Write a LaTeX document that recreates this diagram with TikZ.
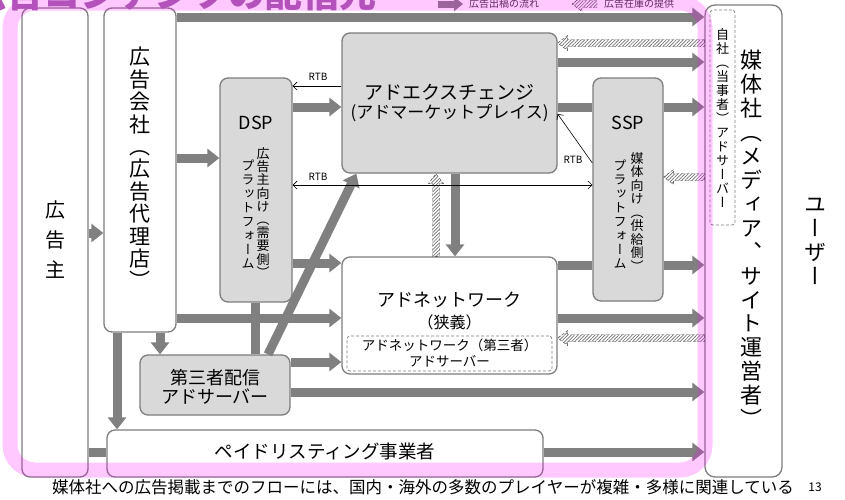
\documentclass[tikz,border=0pt]{standalone}
\usepackage{fontspec}
\setmainfont{Noto Sans CJK JP}
\newfontfamily\vjp[RawFeature=+vert]{Noto Sans CJK JP}
\usetikzlibrary{arrows.meta,patterns.meta,calc}
\definecolor{arr}{RGB}{128,128,128}
\definecolor{boxline}{RGB}{125,125,125}
\definecolor{boxfill}{RGB}{217,217,217}
\definecolor{pinkov}{RGB}{255,0,255}
\definecolor{titlec}{RGB}{178,82,186}
\newcommand\hatchleft[2]{\path[hatch] let \p1=(#1), \p2=(#2) in
  (\x1,\y1+3.5pt) -- (\x2+10pt,\y1+3.5pt) -- (\x2+10pt,\y1+7.5pt) -- (\x2,\y1)
  -- (\x2+10pt,\y1-7.5pt) -- (\x2+10pt,\y1-3.5pt) -- (\x1,\y1-3.5pt) -- cycle;}
\newcommand\hatchup[2]{\path[hatch] let \p1=(#1), \p2=(#2) in
  (\x1-3.5pt,\y1) -- (\x1-3.5pt,\y2-10pt) -- (\x1-7.5pt,\y2-10pt) -- (\x1,\y2)
  -- (\x1+7.5pt,\y2-10pt) -- (\x1+3.5pt,\y2-10pt) -- (\x1+3.5pt,\y1) -- cycle;}
\begin{document}
\begin{tikzpicture}[x=1pt,y=-1pt,
  box/.style={draw=boxline, line width=1.3pt, rounded corners=8pt, fill=white, inner sep=0pt},
  gbox/.style={box, fill=boxfill},
  flow/.style={draw=arr, line width=9pt, -{Triangle[length=12pt,width=18pt]}},
  bar/.style={draw=arr, line width=9pt},
  hatch/.style={draw=black!75, densely dashed, line width=0.4pt,
    pattern={Lines[angle=45,distance=2.4pt,line width=0.7pt]}, pattern color=black!55},
  rtb/.style={line width=0.6pt, -{Straight Barb[length=4pt,width=8pt]}},
  rtbboth/.style={line width=0.6pt, {Straight Barb[length=4pt,width=8pt]}-{Straight Barb[length=4pt,width=8pt]}},
  lbl/.style={inner sep=0pt, align=center},
  vt/.style={inner sep=0pt, align=center}
]
\useasboundingbox (0,0) rectangle (845,499);
\clip (0,0) rectangle (845,499);

% boxes
\node[box, minimum width=66, minimum height=469] (adv) at (55,242.5) {};
\node[box, minimum width=72, minimum height=324] (agency) at (140,170) {};
\node[gbox, minimum width=72, minimum height=224] (dsp) at (256,190) {};
\node[gbox, minimum width=215, minimum height=140] (adx) at (449.5,103) {};
\node[gbox, minimum width=70, minimum height=223] (ssp) at (628,189.5) {};
\node[box, minimum width=215, minimum height=117] (adnet) at (449.5,315.5) {};
\node[draw=boxline, densely dashed, line width=0.7pt, rounded corners=3pt, inner sep=0pt,
      minimum width=205, minimum height=35] (adnetsrv) at (449.5,353.5) {};
\node[gbox, minimum width=150, minimum height=60] (third) at (215,385) {};
\node[box, minimum width=436, minimum height=47] (paid) at (325,453.5) {};
\node[box, rounded corners=10pt, minimum width=77, minimum height=472] (media) at (743.5,241) {};
\node[draw=boxline, densely dashed, line width=0.7pt, rounded corners=3pt, inner sep=0pt,
      minimum width=25, minimum height=215] (self) at (722.5,117.5) {};

% texts
\node[vt, font=\vjp\fontsize{20}{30}\selectfont] (tadv) at (55,240) {広\\告\\主};
\node[vt, font=\vjp\fontsize{21}{22.4}\selectfont] (tagency) at (140,168) {広\\告\\会\\社\\（\\広\\告\\代\\理\\店\\）};
\node[lbl, font=\fontsize{18}{20}\selectfont] (tdsp) at (256,123) {DSP};
\node[vt, font=\vjp\fontsize{13}{13.2}\selectfont] (tdsp1) at (263,212.5) {広\\告\\主\\向\\け\\（\\需\\要\\側\\）};
\node[vt, font=\vjp\fontsize{13}{14}\selectfont] (tdsp2) at (248,214) {プ\\ラ\\ッ\\ト\\フ\\ォ\\ー\\ム};
\node[lbl, font=\fontsize{18}{20}\selectfont] (tssp) at (628,123) {SSP};
\node[vt, font=\vjp\fontsize{13}{13.5}\selectfont] (tssp1) at (637,212) {媒\\体\\向\\け\\（\\供\\給\\側\\）};
\node[vt, font=\vjp\fontsize{13}{14}\selectfont] (tssp2) at (620,214.5) {プ\\ラ\\ッ\\ト\\フ\\ォ\\ー\\ム};
\node[lbl, font=\fontsize{19}{21}\selectfont] (tadx1) at (449.5,92) {アドエクスチェンジ};
\node[lbl, font=\fontsize{17}{19}\selectfont] (tadx2) at (449.5,113) {(アドマーケットプレイス)};
\node[lbl, font=\fontsize{18}{20}\selectfont] (tadnet1) at (449.5,300) {アドネットワーク};
\node[lbl, font=\fontsize{16}{18}\selectfont] (tadnet2) at (449.5,322) {（狭義）};
\node[lbl, font=\fontsize{13.5}{15}\selectfont] (tsrv1) at (449.5,345) {アドネットワーク（第三者）};
\node[lbl, font=\fontsize{13.5}{15}\selectfont] (tsrv2) at (449.5,361) {アドサーバー};
\node[lbl, font=\fontsize{18}{19.5}\selectfont] (tthird) at (215,387) {第三者配信\\アドサーバー};
\node[lbl, font=\fontsize{18.5}{20}\selectfont] (tpaid) at (325,451) {ペイドリスティング事業者};
\node[vt, font=\vjp\fontsize{22}{23.9}\selectfont] (tmedia) at (751,239) {媒\\体\\社\\（\\メ\\デ\\ィ\\ア\\、\\サ\\イ\\ト\\運\\営\\者\\）};
\node[vt, font=\vjp\fontsize{13}{14}\selectfont] (tself) at (722.5,118) {自\\社\\（\\当\\事\\者\\）\\ア\\ド\\サ\\ー\\バ\\ー};
\node[vt, font=\vjp\fontsize{22}{24}\selectfont] (tuser) at (815,241.5) {ユ\\ー\\ザ\\ー};
\node[lbl, font=\fontsize{10}{12}\selectfont] (rtb1) at (318,77) {RTB};
\node[lbl, font=\fontsize{10}{12}\selectfont] (rtb2) at (318,177) {RTB};
\node[lbl, font=\fontsize{10}{12}\selectfont] (rtb3) at (573,160) {RTB};
\node[lbl, font=\fontsize{16.5}{18}\selectfont] (footer) at (423,487) {媒体社への広告掲載までのフローには、国内・海外の多数のプレイヤーが複雑・多様に関連している};
\node[lbl, font=\fontsize{12}{14}\selectfont] (pageno) at (815,487) {13};

% flow arrows
\draw[flow] (agency.east |- 0,17) -- (media.west |- 0,17);
\draw[flow] (adx.east |- 0,62) -- (media.west |- 0,62);
\draw[bar] (adx.east |- 0,107) -- (ssp.west |- 0,107);
\draw[flow] (ssp.east |- 0,107) -- (media.west |- 0,107);
\draw[flow] (dsp.east |- 0,107) -- (adx.west |- 0,107);
\draw[flow] (agency.east |- 0,158) -- (dsp.west |- 0,158);
\draw[flow] (adv.east |- 0,233) -- (agency.west |- 0,233);
\draw[flow] (dsp.east |- 0,263) -- (adnet.west |- 0,263);
\draw[bar] (adnet.east |- 0,265) -- (ssp.west |- 0,265);
\draw[flow] (ssp.east |- 0,265) -- (media.west |- 0,265);
\draw[flow] (adx.south -| 455,0) -- (adnet.north -| 455,0);
\draw[flow] (adnet.east |- 0,318) -- (media.west |- 0,318);
\draw[bar] (dsp.south -| 255,0) -- (third.north -| 255,0);
\draw[flow] (agency.east |- 0,318) -- (adnet.west |- 0,318);
\draw[flow] (third.east |- 0,362) -- (adnet.west |- 0,362);
\draw[flow] (third.east |- 0,392) -- (media.west |- 0,392);
\draw[flow] (agency.south -| 160,0) -- (third.north -| 160,0);
\draw[flow] (agency.south -| 117,0) -- (paid.north -| 117,0);
\draw[bar] (adv.east |- 0,452) -- (paid.west |- 0,452);
\draw[flow] (paid.east |- 0,452) -- (media.west |- 0,452);
\draw[flow] ($(third.north)+(53,0)$) -- ($(adx.south west)+(15,0)$);

% hatched (inventory) arrows
\hatchleft{media.west |- 0,43}{adx.east |- 0,43}
\hatchleft{media.west |- 0,177}{ssp.east |- 0,177}
\hatchleft{media.west |- 0,338}{adnet.east |- 0,338}
\hatchup{adnet.north -| 436,0}{adx.south -| 436,0}

% RTB
\draw[rtb] (adx.west |- 0,86) -- (dsp.east |- 0,86);
\draw[rtbboth] (dsp.east |- 0,185) -- (ssp.west |- 0,185);
\draw[rtb] (ssp.west |- 0,163) -- (adx.east |- 0,114);

% legend
\coordinate (lg1a) at (438,4);
\coordinate (lg1b) at (463,4);
\draw[draw=arr, line width=7pt, -{Triangle[length=9pt,width=14pt]}] (lg1a) -- (lg1b);
\node[anchor=west, inner sep=0pt, font=\fontsize{10}{12}\selectfont, text=black!80] (lgt1) at (469,4) {広告出稿の流れ};
\coordinate (lg2a) at (597,4);
\coordinate (lg2b) at (572,4);
\hatchleft{lg2a}{lg2b}
\node[anchor=west, inner sep=0pt, font=\fontsize{10}{12}\selectfont, text=black!80] (lgt2) at (604,4) {広告在庫の提供};

% pink frame overlay
\draw[line width=15pt, draw=pinkov, draw opacity=0.215, rounded corners=25pt] (10,3) rectangle (705,470);

% title (clipped at top)
\node[anchor=base east, inner sep=0pt, font=\bfseries\fontsize{37}{40}\selectfont, text=titlec] (title) at (377,7) {広告コンテンツの配信元};
\end{tikzpicture}
\end{document}
